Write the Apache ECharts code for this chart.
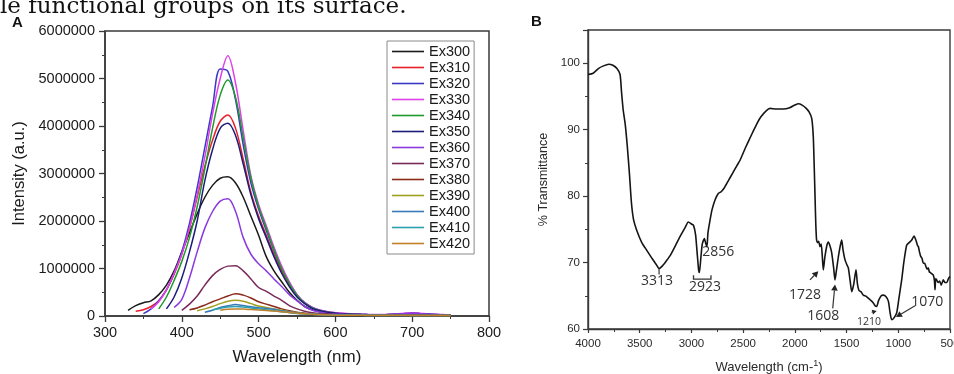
<!DOCTYPE html>
<html><head><meta charset="utf-8">
<script src="https://cdn.jsdelivr.net/npm/echarts@6/dist/echarts.min.js"></script>
<style>html,body{margin:0;padding:0;background:#fff;}#c{width:954px;height:374px;}</style>
</head><body><div id="c"></div>
<script>
// ---------- Panel A: fluorescence emission spectra ----------
const wavelengths = [330,340,350,360,370,380,390,400,410,420,430,440,450,460,470,480,490,500,510,520,530,540,550,560,570,580,590,600,610,620,630,640,650,660,670,680,690,700,710,720,730,740,750];
const seriesNames = ['Ex300','Ex310','Ex320','Ex330','Ex340','Ex350','Ex360','Ex370','Ex380','Ex390','Ex400','Ex410','Ex420'];
const seriesColors = ['#1a1a1a','#e8202a','#3a3ac8','#e040e8','#1e9a2a','#1c1c7a','#8a3ae0','#7a2a5a','#8a2a1a','#a0a020','#3a7ab8','#2aa0b0','#c0802a'];
const ex300 = [120000,220000,280000,320000,450000,650000,950000,1350000,1750000,2150000,2500000,2750000,2900000,2930000,2800000,2500000,2100000,1700000,1250000,950000,720000,500000,330000,200000,130000,90000,60000,40000,30000,25000,20000,18000,15000,15000,12000,12000,12000,10000,10000,10000,8000,8000,8000];
const ex310 = [null,100000,130000,200000,320000,550000,880000,1300000,1850000,2500000,3150000,3700000,4100000,4230000,3950000,3300000,2600000,2100000,1700000,1300000,950000,650000,420000,270000,170000,110000,80000,60000,45000,35000,30000,25000,20000,18000,20000,25000,20000,18000,15000,15000,12000,12000,10000];
const ex320 = [null,null,50000,150000,320000,550000,900000,1350000,1950000,2700000,3550000,4400000,5200000,5150000,4550000,3600000,2800000,2250000,1800000,1380000,1000000,700000,450000,280000,180000,120000,90000,70000,55000,45000,35000,30000,25000,25000,30000,35000,40000,45000,35000,30000,25000,20000,20000];
const ex330 = [null,null,null,150000,300000,550000,900000,1300000,1850000,2550000,3350000,4250000,5000000,5480000,4900000,3900000,2950000,2350000,1900000,1450000,1050000,720000,450000,280000,180000,120000,90000,70000,60000,50000,40000,35000,30000,30000,35000,45000,60000,70000,60000,45000,35000,30000,25000];
const ex340 = [null,null,null,null,150000,400000,750000,1150000,1650000,2300000,3100000,3950000,4650000,4970000,4600000,3750000,2900000,2300000,1850000,1400000,1000000,680000,430000,270000,170000,110000,80000,60000,45000,35000,30000,25000,20000,20000,20000,25000,25000,20000,18000,15000,15000,12000,12000];
const ex350 = [null,null,null,null,null,150000,400000,800000,1350000,2000000,2850000,3500000,3950000,4060000,3800000,3200000,2550000,2050000,1650000,1250000,900000,620000,400000,260000,160000,110000,80000,60000,45000,40000,35000,30000,25000,25000,30000,35000,45000,55000,50000,40000,30000,25000,20000];
const ex360 = [null,null,null,null,null,null,180000,350000,800000,1350000,1850000,2200000,2420000,2470000,2200000,1650000,1300000,1100000,950000,780000,620000,450000,320000,200000,120000,80000,50000,40000,35000,30000,30000,25000,25000,25000,30000,40000,55000,60000,50000,40000,30000,25000,20000];
const ex370 = [null,null,null,null,null,null,null,120000,250000,420000,650000,850000,980000,1050000,1060000,950000,780000,600000,520000,420000,330000,220000,150000,100000,70000,50000,40000,30000,25000,22000,20000,18000,18000,18000,20000,22000,25000,25000,22000,20000,18000,15000,15000];
const ex380 = [null,null,null,null,null,null,null,null,130000,170000,230000,300000,360000,420000,470000,440000,380000,300000,250000,200000,150000,110000,80000,60000,45000,35000,30000,25000,22000,20000,18000,16000,15000,15000,15000,15000,15000,15000,14000,13000,12000,12000,12000];
const ex390 = [null,null,null,null,null,null,null,null,null,110000,150000,200000,260000,310000,330000,310000,260000,210000,180000,150000,120000,90000,70000,50000,40000,30000,25000,22000,20000,18000,16000,15000,14000,14000,14000,14000,14000,13000,13000,12000,12000,12000,12000];
const ex400 = [null,null,null,null,null,null,null,null,null,null,80000,120000,180000,215000,240000,220000,195000,175000,160000,140000,110000,85000,65000,50000,40000,30000,25000,20000,18000,16000,15000,14000,14000,13000,13000,13000,13000,13000,12000,12000,12000,12000,12000];
const ex410 = [null,null,null,null,null,null,null,null,null,null,null,130000,160000,190000,200000,190000,170000,150000,130000,110000,90000,70000,55000,45000,35000,28000,22000,18000,16000,15000,14000,13000,13000,12000,12000,12000,12000,12000,11000,11000,11000,10000,10000];
const ex420 = [null,null,null,null,null,null,null,null,null,null,null,null,120000,140000,150000,145000,135000,125000,115000,105000,90000,75000,60000,45000,35000,28000,22000,18000,16000,15000,14000,13000,13000,12000,12000,12000,12000,11000,11000,11000,10000,10000,10000];
const intensitySeries = [ex300,ex310,ex320,ex330,ex340,ex350,ex360,ex370,ex380,ex390,ex400,ex410,ex420];
const intensityTicks = [0,1000000,2000000,3000000,4000000,5000000,6000000];
const wavelengthTicks = [300,400,500,600,700,800];

// ---------- Panel B: FTIR spectrum ----------
const ftirWavenumber = [4000,3950,3900,3850,3800,3760,3720,3690,3675,3660,3640,3620,3600,3580,3560,3530,3480,3430,3380,3340,3313,3280,3240,3200,3150,3100,3060,3030,3000,2980,2960,2945,2930,2923,2910,2895,2875,2860,2850,2840,2820,2800,2770,2740,2710,2680,2640,2600,2560,2530,2480,2420,2370,2330,2280,2240,2180,2112,2050,2000,1967,1930,1890,1860,1837,1822,1812,1805,1798,1790,1780,1770,1757,1745,1735,1725,1710,1690,1676,1660,1644,1625,1612,1600,1580,1560,1547,1535,1515,1495,1483,1465,1450,1430,1409,1395,1380,1360,1338,1310,1273,1245,1225,1209,1190,1165,1145,1120,1096,1080,1064,1045,1016,995,967,945,919,895,870,848,830,815,806,795,785,770,758,745,735,722,710,700,690,675,661,650,645,638,629,615,600,585,565,550,530,515,500];
const ftirTransmittance = [98.3,98.5,99.2,99.6,99.85,99.7,99.2,98.3,95.5,93,90.8,87.5,83.5,79,76.5,74.9,73,71.8,70.6,69.7,69.1,69.5,70.3,71.2,72.7,74.2,75.3,76.1,75.8,75.6,74.2,71.5,68.8,68.5,70.5,72.8,73.6,72.8,72.4,74.5,76.4,78.0,79.5,80.4,80.7,81.3,82.4,83.5,84.6,85.4,87.2,89.2,90.8,91.9,92.8,93.2,93.1,93.1,93.3,93.7,93.9,93.7,93.2,92.6,91.7,89,84,80,76,73.4,73.0,73.2,72.4,72.8,71,68.9,70.8,72.6,73.1,72.5,71.5,69.2,67.4,68.6,70.8,72.6,73.4,72,70.4,69.6,69.2,67.2,65.6,66.8,68.9,66.8,65.8,65.6,65.1,64.9,64.4,64.0,63.5,63.4,64.3,65.0,65.1,64.9,64.2,62.5,61.4,61.6,62.4,64.5,67.4,70.2,72.6,73.0,73.4,74.0,73.4,72.6,72.4,71.6,71.0,70.6,69.9,69.9,69.5,69.0,69.2,68.6,68.5,68.3,68.1,67.2,65.9,67.6,67.4,67.0,67.2,66.6,67.4,67.0,67.0,67.6,67.9];
const transmittanceTicks = [60,70,80,90,100];
const wavenumberTicks = [4000,3500,3000,2500,2000,1500,1000,500];

const annotationLabels = ['3313','2923','2856','1728','1608','1210','1070'];
const annotationWavenumber = [3333,2869,2740,1902,1725,1283,719];
const annotationTransmittance = [67.2,66.3,71.6,65.1,62.0,61.0,64.1];
const annotationFontSize = [14,14,14,14,14,10.5,14];
const arrowFrom = [[1854,67.4],[1634,63.1],[1257,62.5],[838,63.5]];
const arrowTo = [[1773,68.7],[1612,66.7],[1209,62.7],[1022,61.8]];
const arrowHead = [6,6,4.5,6];

const FONT = 'Liberation Sans';
const chart = echarts.init(document.getElementById('c'), null, {renderer:'canvas'});

const seriesA = seriesNames.map((name, i) => ({
  name, type: 'line', xAxisIndex: 0, yAxisIndex: 0, symbol: 'none', smooth: 0.35,
  connectNulls: false,
  lineStyle: {color: seriesColors[i], width: 1.5},
  itemStyle: {color: seriesColors[i]},
  data: wavelengths.map((w, k) => [w, intensitySeries[i][k]]),
  z: 2
}));

const seriesB = {
  name: 'FTIR', type: 'line', xAxisIndex: 1, yAxisIndex: 1, symbol: 'none', smooth: 0.2,
  lineStyle: {color: '#151515', width: 1.6},
  data: ftirWavenumber.map((w, k) => [w, ftirTransmittance[k]]),
  z: 2
};

const axisLineA = {show: true, lineStyle: {color: '#3a3a3a', width: 1.5}};
const axisLineB = {show: true, lineStyle: {color: '#3a3a3a', width: 1.4}};

chart.setOption({
  animation: false,
  backgroundColor: '#fff',
  grid: [
    {left: 105, right: 465, top: 31, bottom: 58, show: true, borderColor: '#3a3a3a', borderWidth: 1.5, backgroundColor: 'transparent', containLabel: false, outerBoundsMode: 'none'},
    {left: 588, right: 4, top: 30, bottom: 45, show: true, borderColor: '#3a3a3a', borderWidth: 1.4, backgroundColor: 'transparent', containLabel: false, outerBoundsMode: 'none'}
  ],
  legend: {
    data: seriesNames, orient: 'vertical', left: 387, top: 41,
    padding: [3, 4, 3, 5], itemGap: 1, itemWidth: 32, itemHeight: 14,
    borderColor: '#8a8a8a', borderWidth: 1, backgroundColor: '#fff',
    textStyle: {fontFamily: FONT, fontSize: 14.5, color: '#1a1a1a', lineHeight: 14},
    icon: 'path://M0,6.2 L32,6.2 L32,7.8 L0,7.8 Z'
  },
  xAxis: [
    {type: 'value', gridIndex: 0, min: 300, max: 800, interval: 100,
     name: 'Wavelength (nm)', nameLocation: 'middle', nameGap: 33,
     nameTextStyle: {fontFamily: FONT, fontSize: 17, color: '#1a1a1a'},
     axisLine: axisLineA, axisTick: {show: true, length: 6, lineStyle: {color: '#3a3a3a', width: 1.3}},
     minorTick: {show: true, splitNumber: 2, length: 3, lineStyle: {color: '#3a3a3a', width: 1}},
     axisLabel: {fontFamily: FONT, fontSize: 14.5, color: '#1a1a1a', margin: 9, formatter: v => wavelengthTicks.includes(v) ? String(v) : ''},
     splitLine: {show: false}},
    {type: 'value', gridIndex: 1, min: 500, max: 4000, interval: 500, inverse: true,
     name: 'Wavelength (cm-{sup|1})', nameLocation: 'middle', nameGap: 30,
     nameTextStyle: {fontFamily: FONT, fontSize: 13, color: '#2a2a2a', rich: {sup: {fontFamily: FONT, fontSize: 9, color: '#2a2a2a', verticalAlign: 'top', padding: [0,0,7,0]}}},
     axisLine: axisLineB, axisTick: {show: true, length: 4, lineStyle: {color: '#3a3a3a', width: 1.2}},
     minorTick: {show: true, splitNumber: 2, length: 3, lineStyle: {color: '#3a3a3a', width: 1}},
     axisLabel: {fontFamily: FONT, fontSize: 11.5, color: '#2a2a2a', margin: 9, formatter: v => wavenumberTicks.includes(v) ? String(v) : ''},
     splitLine: {show: false}}
  ],
  yAxis: [
    {type: 'value', gridIndex: 0, min: 0, max: 6000000, interval: 1000000,
     name: 'Intensity (a.u.)', nameLocation: 'middle', nameGap: 77, nameRotate: 90,
     nameTextStyle: {fontFamily: FONT, fontSize: 16.5, color: '#1a1a1a'},
     axisLine: axisLineA, axisTick: {show: true, length: 6, lineStyle: {color: '#3a3a3a', width: 1.3}},
     minorTick: {show: true, splitNumber: 2, length: 3, lineStyle: {color: '#3a3a3a', width: 1}},
     axisLabel: {fontFamily: FONT, fontSize: 14.5, color: '#1a1a1a', margin: 10, formatter: v => intensityTicks.includes(v) ? String(v) : ''},
     splitLine: {show: false}},
    {type: 'value', gridIndex: 1, min: 60, max: 105, interval: 10,
     name: '% Transmittance', nameLocation: 'middle', nameGap: 38, nameRotate: 90,
     nameTextStyle: {fontFamily: FONT, fontSize: 12.5, color: '#2a2a2a'},
     axisLine: axisLineB, axisTick: {show: true, length: 5, lineStyle: {color: '#3a3a3a', width: 1.2}},
     minorTick: {show: true, splitNumber: 2, length: 3, lineStyle: {color: '#3a3a3a', width: 1}},
     axisLabel: {fontFamily: FONT, fontSize: 11.5, color: '#2a2a2a', margin: 8, showMaxLabel: false, formatter: v => transmittanceTicks.includes(v) ? String(v) : ''},
     splitLine: {show: false}}
  ],
  series: [...seriesA, seriesB]
});

// ---------- Annotations and panel letters ----------
const toPx = p => chart.convertToPixel({xAxisIndex: 1, yAxisIndex: 1}, p);
const g = [];
g.push({type: 'text', left: 0, top: -4, silent: true,
  style: {text: 'le functional groups on its surface.', fontFamily: 'DejaVu Serif', fontSize: 23, fill: '#111'}});
g.push({type: 'text', left: 12, top: 15, style: {text: 'A', fontFamily: FONT, fontWeight: 'bold', fontSize: 15, fill: '#111'}});
g.push({type: 'text', left: 531, top: 14, style: {text: 'B', fontFamily: FONT, fontWeight: 'bold', fontSize: 15, fill: '#111'}});

annotationLabels.forEach((t, i) => {
  const p = toPx([annotationWavenumber[i], annotationTransmittance[i]]);
  g.push({type: 'text', x: p[0], y: p[1], style: {text: t, fontFamily: 'Open Sans', fontSize: annotationFontSize[i], fill: '#333', align: 'center', verticalAlign: 'middle'}});
});
// 3313 tick
const t0 = toPx([3313, 69.1]), t1 = toPx([3313, 68.2]);
g.push({type: 'line', shape: {x1: t0[0], y1: t0[1], x2: t1[0], y2: t1[1]}, style: {stroke: '#333', lineWidth: 1.2}});
// 2923 bracket
const br = [[2980, 68.1], [2980, 67.5], [2811, 67.5], [2811, 68.1]].map(toPx);
g.push({type: 'polyline', shape: {points: br}, style: {stroke: '#333', lineWidth: 1.3, fill: null}});
// arrows
arrowFrom.forEach((a, i) => {
  const p0 = toPx(a), p1 = toPx(arrowTo[i]);
  const dx = p1[0] - p0[0], dy = p1[1] - p0[1], L = Math.hypot(dx, dy);
  const ux = dx / L, uy = dy / L, h = arrowHead[i];
  const bx = p1[0] - ux * h, by = p1[1] - uy * h, w = h * 0.55;
  g.push({type: 'line', shape: {x1: p0[0], y1: p0[1], x2: bx, y2: by}, style: {stroke: '#333', lineWidth: 1.2}});
  g.push({type: 'polygon', shape: {points: [[p1[0], p1[1]], [bx - uy * w, by + ux * w], [bx + uy * w, by - ux * w]]}, style: {fill: '#222'}});
});
chart.setOption({graphic: g});
</script>
</body></html>
